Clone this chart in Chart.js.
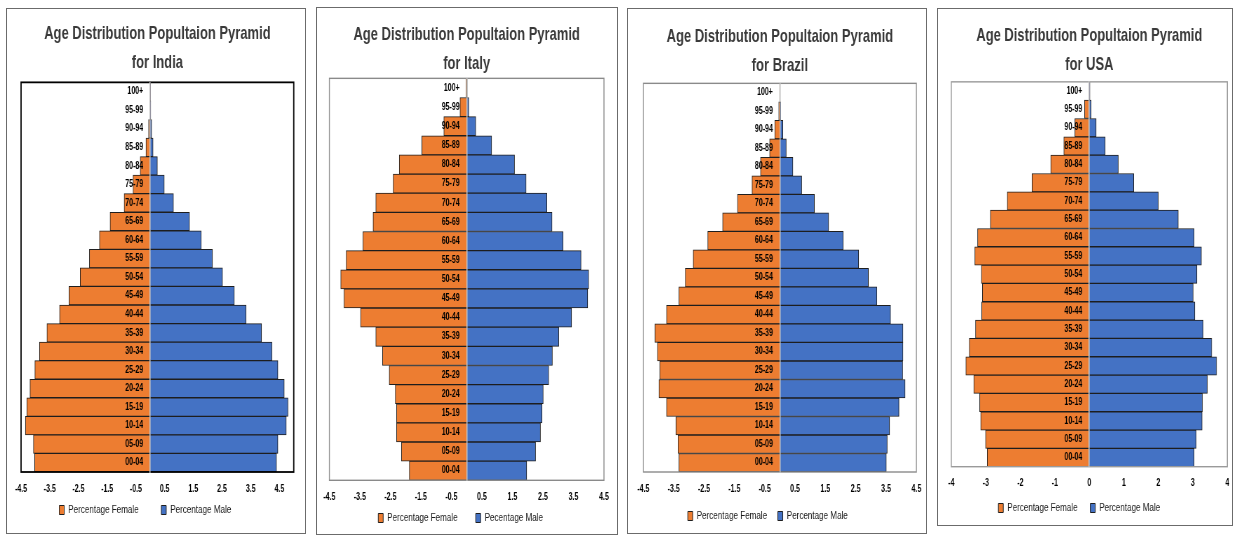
<!DOCTYPE html>
<html>
<head>
<meta charset="utf-8">
<script src="https://cdn.jsdelivr.net/npm/chart.js@4.4.1/dist/chart.umd.min.js"></script>
<style>
  body { margin: 0; background: #fff; width: 1234px; height: 536px; overflow: hidden; position: relative; }
  .panel { position: absolute; border: 1px solid #6b6b6b; box-sizing: border-box; overflow: hidden; background: #fff; }
  .squeeze { position: absolute; left: 0; top: 0; transform-origin: 0 0; }
</style>
</head>
<body>
<div class="panel" style="left:6px;top:8px;width:300px;height:526px"><div class="squeeze"><canvas id="indiaChart"></canvas></div></div>
<div class="panel" style="left:316px;top:7px;width:302px;height:528px"><div class="squeeze"><canvas id="italyChart"></canvas></div></div>
<div class="panel" style="left:627px;top:8px;width:300px;height:526px"><div class="squeeze"><canvas id="brazilChart"></canvas></div></div>
<div class="panel" style="left:937px;top:8px;width:296px;height:518px"><div class="squeeze"><canvas id="usaChart"></canvas></div></div>
<script>
// the source screenshot is squeezed sideways, so each chart is drawn wider and scaled back
const SQUEEZE = 0.7;
const FONT = "'Liberation Sans', Arial, sans-serif";

const ageGroups = ['100+', '95-99', '90-94', '85-89', '80-84', '75-79', '70-74', '65-69', '60-64', '55-59',
    '50-54', '45-49', '40-44', '35-39', '30-34', '25-29', '20-24', '15-19', '10-14', '05-09', '00-04'];

const indiaFemale = [-0.01, -0.02, -0.06, -0.15, -0.35, -0.6, -0.91, -1.4, -1.77, -2.12, -2.44, -2.83, -3.16, -3.6, -3.86, -4.02, -4.19, -4.3, -4.35, -4.07, -4.03];
const indiaMale = [0.01, 0.02, 0.05, 0.1, 0.25, 0.49, 0.81, 1.37, 1.78, 2.17, 2.52, 2.93, 3.34, 3.88, 4.24, 4.45, 4.67, 4.8, 4.74, 4.45, 4.4];

const italyFemale = [-0.02, -0.22, -0.75, -1.47, -2.21, -2.41, -2.98, -3.07, -3.4, -3.95, -4.13, -4.02, -3.48, -2.98, -2.76, -2.54, -2.34, -2.3, -2.3, -2.14, -1.88];
const italyMale = [0.02, 0.07, 0.3, 0.82, 1.57, 1.95, 2.63, 2.8, 3.16, 3.75, 4.0, 3.97, 3.44, 3.02, 2.81, 2.69, 2.51, 2.47, 2.42, 2.26, 1.97];

const brazilFemale = [-0.01, -0.04, -0.17, -0.34, -0.64, -0.92, -1.4, -1.89, -2.38, -2.86, -3.12, -3.33, -3.74, -4.12, -4.04, -3.96, -3.99, -3.74, -3.43, -3.36, -3.33];
const brazilMale = [0.01, 0.03, 0.1, 0.21, 0.43, 0.72, 1.14, 1.61, 2.09, 2.6, 2.92, 3.2, 3.65, 4.06, 4.06, 4.05, 4.13, 3.93, 3.62, 3.54, 3.51];

const usaFemale = [-0.01, -0.14, -0.42, -0.74, -1.12, -1.66, -2.38, -2.87, -3.24, -3.32, -3.13, -3.1, -3.12, -3.3, -3.48, -3.58, -3.35, -3.18, -3.15, -3.01, -2.96];
const usaMale = [0.02, 0.05, 0.2, 0.46, 0.84, 1.29, 2.0, 2.58, 3.04, 3.25, 3.12, 3.01, 3.06, 3.3, 3.55, 3.69, 3.42, 3.28, 3.27, 3.1, 3.04];

const halfStepTicks = [-4.5, -3.5, -2.5, -1.5, -0.5, 0.5, 1.5, 2.5, 3.5, 4.5];
const usaTicks = [-4, -3, -2, -1, 0, 1, 2, 3, 4];

const titleLine = 'Age Distribution Popultaion Pyramid';
const femaleLabel = 'Percentage Female';
const maleLabel = 'Percentage Male';
const italyMaleLabel = 'Pecentage Male';

const plotFrame = {
    id: 'plotFrame',
    afterDatasetsDraw(chart, args, opts) {
        const a = chart.chartArea;
        const ctx = chart.ctx;
        ctx.save();
        ctx.strokeStyle = opts.color;
        ctx.lineWidth = opts.width;
        ctx.strokeRect(a.left, a.top, a.right - a.left, a.bottom - a.top);
        ctx.restore();
    }
};

function makePyramid(canvasId, country, female, male, ticks, xMin, xMax, maleText, frame, pad) {
    const canvas = document.getElementById(canvasId);
    const box = canvas.parentNode;
    const panel = box.parentNode;
    box.style.width = (panel.clientWidth / SQUEEZE) + 'px';
    box.style.height = panel.clientHeight + 'px';
    box.style.transform = 'scaleX(' + SQUEEZE + ')';

    return new Chart(canvas, {
        type: 'bar',
        data: {
            labels: ageGroups,
            datasets: [{
                    label: femaleLabel,
                    data: female,
                    backgroundColor: '#ED7D31',
                    borderColor: '#1e1e1e',
                    borderWidth: 1
                },
                {
                    label: maleText,
                    data: male,
                    backgroundColor: '#4472C4',
                    borderColor: '#1e1e1e',
                    borderWidth: 1
                }
            ]
        },
        options: {
            indexAxis: 'y',
            responsive: true,
            maintainAspectRatio: false,
            animation: false,
            datasets: {
                bar: { categoryPercentage: 1, barPercentage: 1 }
            },
            layout: {
                padding: { top: pad.top, left: pad.left, right: pad.right, bottom: pad.bottom }
            },
            scales: {
                x: {
                    stacked: true,
                    min: xMin,
                    max: xMax,
                    grid: { display: false, drawTicks: false },
                    border: { display: false },
                    afterBuildTicks: axis => {
                        axis.ticks = ticks.map(v => ({ value: v }));
                    },
                    // only the padding above the labels, none below
                    afterFit: axis => {
                        axis.height = pad.tick + 12;
                        axis.paddingLeft = 0;
                        axis.paddingRight = 0;
                    },
                    ticks: {
                        padding: pad.tick,
                        color: '#000',
                        font: { family: FONT, size: 10, weight: 'bold' },
                        callback: v => String(v)
                    }
                },
                y: {
                    stacked: true,
                    position: { x: 0 },
                    grid: { display: false, drawTicks: false },
                    border: { display: true, color: '#c4c4c4', width: 1.5, z: 1 },
                    ticks: {
                        z: 2,
                        autoSkip: false,
                        color: '#000',
                        font: { family: FONT, size: 10, weight: 'bold' },
                        callback: function(v) {
                            return this.getLabelForValue(v) + '\u2003';
                        }
                    }
                }
            },
            plugins: {
                title: {
                    display: true,
                    text: [titleLine, 'for ' + country],
                    color: '#3a3a3a',
                    font: { family: FONT, size: 18.5, weight: 'bold', lineHeight: 1.55 },
                    padding: { top: 0, bottom: pad.titleBottom }
                },
                legend: {
                    position: 'bottom',
                    labels: {
                        boxWidth: 7,
                        boxHeight: 9,
                        padding: pad.legend,
                        color: '#1a1a1a',
                        font: { family: FONT, size: 11.5 },
                        // en spaces after each entry set the gap and nudge the pair left
                        generateLabels: chart => Chart.defaults.plugins.legend.labels.generateLabels(chart)
                            .map((item, i) => Object.assign(item, { text: item.text + '\u2002'.repeat(pad.tail[i]) }))
                    }
                },
                tooltip: { enabled: false },
                plotFrame: frame
            }
        },
        plugins: [plotFrame]
    });
}

makePyramid('indiaChart', 'India', indiaFemale, indiaMale, halfStepTicks, -4.5, 5, maleLabel,
    { color: '#000', width: 1.8 },
    { top: 11, left: 20, right: 17, bottom: 7.25, tick: 11, legend: 9.25, tail: [4, 6], titleBottom: 5 });
makePyramid('italyChart', 'Italy', italyFemale, italyMale, halfStepTicks, -4.5, 4.5, italyMaleLabel,
    { color: '#8a8a8a', width: 1.4 },
    { top: 12.5, left: 17.6, right: 19.6, bottom: 0.25, tick: 11.4, legend: 8.55, tail: [3, 3], titleBottom: 0.5 });
makePyramid('brazilChart', 'Brazil', brazilFemale, brazilMale, halfStepTicks, -4.5, 4.5, maleLabel,
    { color: '#8a8a8a', width: 1.4 },
    { top: 14, left: 21.9, right: 14.7, bottom: 1.25, tick: 11, legend: 15.25, tail: [0, 6], titleBottom: 3 });
makePyramid('usaChart', 'USA', usaFemale, usaMale, usaTicks, -4, 4, maleLabel,
    { color: '#9a9a9a', width: 1.4 },
    { top: 13, left: 19, right: 6.7, bottom: 1.25, tick: 11, legend: 12.55, tail: [1, 5], titleBottom: 2.5 });
</script>
</body>
</html>
